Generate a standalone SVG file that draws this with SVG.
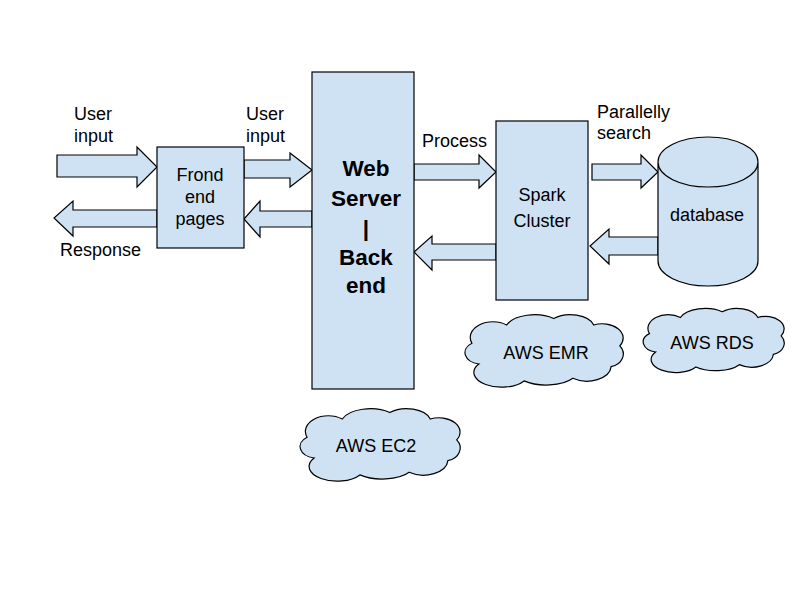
<svg xmlns="http://www.w3.org/2000/svg" width="800" height="600" viewBox="0 0 800 600">
<defs>
<style>
.s{fill:#cfe2f3;stroke:#000;stroke-width:1.2}
.t{font-family:"Liberation Sans",Arial,sans-serif;font-size:18px;fill:#000}
.c{text-anchor:middle}
.b{font-weight:bold;font-size:22.5px}
</style>
<path id="cloud" d="M12,40 A10,9 0 0 1 8,24 A13,12 0 0 1 28,10 A17,12 0 0 1 55,5 A14,11 0 0 1 78,10 A12,11 0 0 1 93,26 A9,10 0 0 1 88,42 A14,12 0 0 1 66,51 A18,11 0 0 1 38,53 A14,10 0 0 1 12,40 Z" vector-effect="non-scaling-stroke"/>
</defs>
<rect width="800" height="600" fill="#fff"/>
<g id="connectors">
<polygon class="s" points="57,155 137,155 137,147 157,167 137,187 137,177 57,177"/>
<polygon class="s" points="157,210 73,210 73,201 54,218 73,236 73,227 157,227"/>
<polygon class="s" points="244,160 290,160 290,153 312,170 290,187 290,178 244,178"/>
<polygon class="s" points="312,211 260,211 260,201 244,219 260,237 260,227 312,227"/>
<polygon class="s" points="414,164 479,164 479,155 496,172 479,188 479,180 414,180"/>
<polygon class="s" points="496,244 432,244 432,236 414,252 432,270 432,260 496,260"/>
<polygon class="s" points="592,164 641,164 641,155 658,172 641,188 641,180 592,180"/>
<polygon class="s" points="658,237 609,237 609,229 590,246 609,264 609,255 658,255"/>
</g>
<g id="front"><rect class="s" x="157" y="147" width="87" height="101"/>
<text class="t c" x="200" y="181">Frond</text><text class="t c" x="200" y="203">end</text><text class="t c" x="200" y="225">pages</text></g>
<g id="web"><rect class="s" x="312" y="72" width="102" height="317"/>
<text class="t c b" x="366" y="176">Web</text><text class="t c b" x="366" y="206">Server</text><text class="t c b" x="366" y="236">|</text><text class="t c b" x="366" y="265">Back</text><text class="t c b" x="366" y="293">end</text></g>
<g id="spark"><rect class="s" x="496" y="121" width="92" height="179"/>
<text class="t c" x="542" y="201">Spark</text><text class="t c" x="542" y="227">Cluster</text></g>
<g id="database"><path class="s" d="M658,162 L658,261 A50,25 0 0 0 758,261 L758,162 A50,25 0 0 0 658,162 A50,25 0 0 0 758,162"/>
<text class="t c" x="707" y="221">database</text></g>
<g id="emr"><use href="#cloud" class="s" transform="translate(458,312) scale(1.74,1.3)"/><text class="t c" x="546" y="359">AWS EMR</text></g>
<g id="rds"><use href="#cloud" class="s" transform="translate(637,306) scale(1.55,1.15)"/><text class="t c" x="712" y="349">AWS RDS</text></g>
<g id="ec2"><use href="#cloud" class="s" transform="translate(293,406) scale(1.76,1.3)"/><text class="t c" x="376" y="452">AWS EC2</text></g>
<g id="labels">
<text class="t" x="74" y="120">User</text><text class="t" x="74" y="142">input</text>
<text class="t" x="246" y="120">User</text><text class="t" x="246" y="142">input</text>
<text class="t" x="60" y="256">Response</text>
<text class="t" x="422" y="147">Process</text>
<text class="t" x="597" y="118">Parallelly</text><text class="t" x="597" y="139">search</text>
</g>
</svg>
